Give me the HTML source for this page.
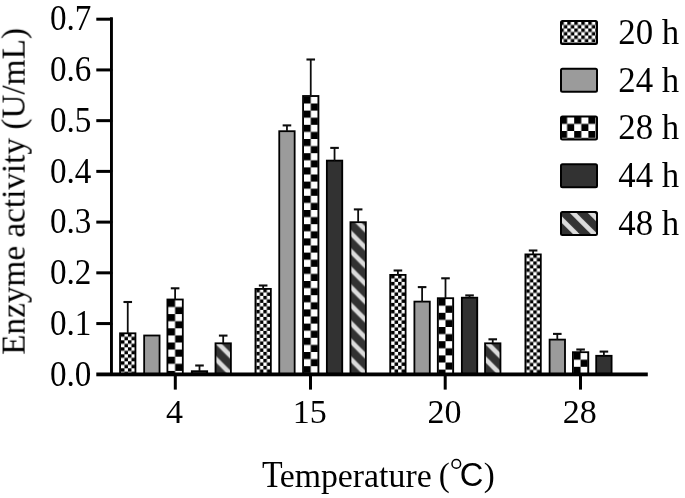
<!DOCTYPE html>
<html><head><meta charset="utf-8"><style>html,body{margin:0;padding:0;background:#fff;overflow:hidden}svg{display:block}</style></head>
<body><svg width="685" height="498" viewBox="0 0 685 498">
<defs><pattern id="p1" patternUnits="userSpaceOnUse" x="120.95" y="333.30" width="7.0" height="7.0"><rect width="7.0" height="7.0" fill="#fff"/><rect width="3.5" height="3.5" fill="#000"/><rect x="3.5" y="3.5" width="3.5" height="3.5" fill="#000"/></pattern><pattern id="p2" patternUnits="userSpaceOnUse" x="168.00" y="299.90" width="14.2" height="14.2"><rect width="14.2" height="14.2" fill="#fff"/><rect width="7.1" height="7.1" fill="#000"/><rect x="7.1" y="7.1" width="7.1" height="7.1" fill="#000"/></pattern><pattern id="p3" patternUnits="userSpaceOnUse" x="214.60" y="374.40" width="18.0" height="18.0"><rect width="18.0" height="18.0" fill="#333"/><polygon points="-40.80,0 -34.20,0 -16.20,18.0 -22.80,18.0" fill="#dcdcdc"/><polygon points="-22.80,0 -16.20,0 1.80,18.0 -4.80,18.0" fill="#dcdcdc"/><polygon points="-4.80,0 1.80,0 19.80,18.0 13.20,18.0" fill="#dcdcdc"/><polygon points="13.20,0 19.80,0 37.80,18.0 31.20,18.0" fill="#dcdcdc"/><polygon points="31.20,0 37.80,0 55.80,18.0 49.20,18.0" fill="#dcdcdc"/></pattern><pattern id="p4" patternUnits="userSpaceOnUse" x="256.35" y="288.90" width="7.0" height="7.0"><rect width="7.0" height="7.0" fill="#fff"/><rect width="3.5" height="3.5" fill="#000"/><rect x="3.5" y="3.5" width="3.5" height="3.5" fill="#000"/></pattern><pattern id="p5" patternUnits="userSpaceOnUse" x="303.65" y="96.40" width="14.2" height="14.2"><rect width="14.2" height="14.2" fill="#fff"/><rect width="7.1" height="7.1" fill="#000"/><rect x="7.1" y="7.1" width="7.1" height="7.1" fill="#000"/></pattern><pattern id="p6" patternUnits="userSpaceOnUse" x="349.55" y="374.40" width="18.0" height="18.0"><rect width="18.0" height="18.0" fill="#333"/><polygon points="-40.80,0 -34.20,0 -16.20,18.0 -22.80,18.0" fill="#dcdcdc"/><polygon points="-22.80,0 -16.20,0 1.80,18.0 -4.80,18.0" fill="#dcdcdc"/><polygon points="-4.80,0 1.80,0 19.80,18.0 13.20,18.0" fill="#dcdcdc"/><polygon points="13.20,0 19.80,0 37.80,18.0 31.20,18.0" fill="#dcdcdc"/><polygon points="31.20,0 37.80,0 55.80,18.0 49.20,18.0" fill="#dcdcdc"/></pattern><pattern id="p7" patternUnits="userSpaceOnUse" x="391.10" y="274.90" width="7.0" height="7.0"><rect width="7.0" height="7.0" fill="#fff"/><rect width="3.5" height="3.5" fill="#000"/><rect x="3.5" y="3.5" width="3.5" height="3.5" fill="#000"/></pattern><pattern id="p8" patternUnits="userSpaceOnUse" x="438.40" y="298.60" width="14.2" height="14.2"><rect width="14.2" height="14.2" fill="#fff"/><rect width="7.1" height="7.1" fill="#000"/><rect x="7.1" y="7.1" width="7.1" height="7.1" fill="#000"/></pattern><pattern id="p9" patternUnits="userSpaceOnUse" x="484.15" y="374.40" width="18.0" height="18.0"><rect width="18.0" height="18.0" fill="#333"/><polygon points="-40.80,0 -34.20,0 -16.20,18.0 -22.80,18.0" fill="#dcdcdc"/><polygon points="-22.80,0 -16.20,0 1.80,18.0 -4.80,18.0" fill="#dcdcdc"/><polygon points="-4.80,0 1.80,0 19.80,18.0 13.20,18.0" fill="#dcdcdc"/><polygon points="13.20,0 19.80,0 37.80,18.0 31.20,18.0" fill="#dcdcdc"/><polygon points="31.20,0 37.80,0 55.80,18.0 49.20,18.0" fill="#dcdcdc"/></pattern><pattern id="p10" patternUnits="userSpaceOnUse" x="526.30" y="254.40" width="7.0" height="7.0"><rect width="7.0" height="7.0" fill="#fff"/><rect width="3.5" height="3.5" fill="#000"/><rect x="3.5" y="3.5" width="3.5" height="3.5" fill="#000"/></pattern><pattern id="p11" patternUnits="userSpaceOnUse" x="573.50" y="352.60" width="14.2" height="14.2"><rect width="14.2" height="14.2" fill="#fff"/><rect width="7.1" height="7.1" fill="#000"/><rect x="7.1" y="7.1" width="7.1" height="7.1" fill="#000"/></pattern><pattern id="p12" patternUnits="userSpaceOnUse" x="560.30" y="21.50" width="7.0" height="7.0"><rect width="7.0" height="7.0" fill="#fff"/><rect width="3.5" height="3.5" fill="#000"/><rect x="3.5" y="3.5" width="3.5" height="3.5" fill="#000"/></pattern><pattern id="p13" patternUnits="userSpaceOnUse" x="560.00" y="116.80" width="14.2" height="14.2"><rect width="14.2" height="14.2" fill="#fff"/><rect width="7.1" height="7.1" fill="#000"/><rect x="7.1" y="7.1" width="7.1" height="7.1" fill="#000"/></pattern><pattern id="p14" patternUnits="userSpaceOnUse" x="560.00" y="235.90" width="18.0" height="18.0"><rect width="18.0" height="18.0" fill="#333"/><polygon points="-39.20,0 -32.60,0 -14.60,18.0 -21.20,18.0" fill="#dcdcdc"/><polygon points="-21.20,0 -14.60,0 3.40,18.0 -3.20,18.0" fill="#dcdcdc"/><polygon points="-3.20,0 3.40,0 21.40,18.0 14.80,18.0" fill="#dcdcdc"/><polygon points="14.80,0 21.40,0 39.40,18.0 32.80,18.0" fill="#dcdcdc"/><polygon points="32.80,0 39.40,0 57.40,18.0 50.80,18.0" fill="#dcdcdc"/></pattern><filter id="soft" x="0" y="0" width="1" height="1"><feGaussianBlur stdDeviation="0.45"/></filter></defs>
<rect width="685" height="498" fill="#fff"/>
<g filter="url(#soft)"><rect width="685" height="498" fill="#fff"/>
<rect x="120.05" y="333.30" width="15.40" height="41.10" fill="url(#p1)" stroke="#000" stroke-width="1.8"/><line x1="127.75" y1="302.00" x2="127.75" y2="333.40" stroke="#111" stroke-width="1.8"/><line x1="123.45" y1="302.00" x2="132.05" y2="302.00" stroke="#111" stroke-width="2.1"/><rect x="144.15" y="335.50" width="15.40" height="38.90" fill="#9b9b9b" stroke="#000" stroke-width="1.8"/><rect x="167.40" y="299.50" width="15.40" height="74.90" fill="url(#p2)" stroke="#000" stroke-width="1.8"/><line x1="175.10" y1="288.30" x2="175.10" y2="299.60" stroke="#111" stroke-width="1.8"/><line x1="170.80" y1="288.30" x2="179.40" y2="288.30" stroke="#111" stroke-width="2.1"/><rect x="191.80" y="371.20" width="15.40" height="3.20" fill="#333333" stroke="#000" stroke-width="1.8"/><line x1="199.50" y1="365.50" x2="199.50" y2="371.30" stroke="#111" stroke-width="1.8"/><line x1="195.20" y1="365.50" x2="203.80" y2="365.50" stroke="#111" stroke-width="2.1"/><rect x="215.50" y="343.30" width="15.40" height="31.10" fill="url(#p3)" stroke="#000" stroke-width="1.8"/><line x1="223.20" y1="335.60" x2="223.20" y2="343.40" stroke="#111" stroke-width="1.8"/><line x1="218.90" y1="335.60" x2="227.50" y2="335.60" stroke="#111" stroke-width="2.1"/><rect x="255.45" y="288.90" width="15.40" height="85.50" fill="url(#p4)" stroke="#000" stroke-width="1.8"/><line x1="263.15" y1="285.50" x2="263.15" y2="289.00" stroke="#111" stroke-width="1.8"/><line x1="258.85" y1="285.50" x2="267.45" y2="285.50" stroke="#111" stroke-width="2.1"/><rect x="279.25" y="131.20" width="15.40" height="243.20" fill="#9b9b9b" stroke="#000" stroke-width="1.8"/><line x1="286.95" y1="125.40" x2="286.95" y2="131.30" stroke="#111" stroke-width="1.8"/><line x1="282.65" y1="125.40" x2="291.25" y2="125.40" stroke="#111" stroke-width="2.1"/><rect x="303.05" y="96.00" width="15.40" height="278.40" fill="url(#p5)" stroke="#000" stroke-width="1.8"/><line x1="310.75" y1="59.50" x2="310.75" y2="96.10" stroke="#111" stroke-width="1.8"/><line x1="306.45" y1="59.50" x2="315.05" y2="59.50" stroke="#111" stroke-width="2.1"/><rect x="326.85" y="160.60" width="15.40" height="213.80" fill="#333333" stroke="#000" stroke-width="1.8"/><line x1="334.55" y1="147.90" x2="334.55" y2="160.70" stroke="#111" stroke-width="1.8"/><line x1="330.25" y1="147.90" x2="338.85" y2="147.90" stroke="#111" stroke-width="2.1"/><rect x="350.45" y="222.20" width="15.40" height="152.20" fill="url(#p6)" stroke="#000" stroke-width="1.8"/><line x1="358.15" y1="209.40" x2="358.15" y2="222.30" stroke="#111" stroke-width="1.8"/><line x1="353.85" y1="209.40" x2="362.45" y2="209.40" stroke="#111" stroke-width="2.1"/><rect x="390.20" y="274.90" width="15.40" height="99.50" fill="url(#p7)" stroke="#000" stroke-width="1.8"/><line x1="397.90" y1="270.50" x2="397.90" y2="275.00" stroke="#111" stroke-width="1.8"/><line x1="393.60" y1="270.50" x2="402.20" y2="270.50" stroke="#111" stroke-width="2.1"/><rect x="414.40" y="301.60" width="15.40" height="72.80" fill="#9b9b9b" stroke="#000" stroke-width="1.8"/><line x1="422.10" y1="287.10" x2="422.10" y2="301.70" stroke="#111" stroke-width="1.8"/><line x1="417.80" y1="287.10" x2="426.40" y2="287.10" stroke="#111" stroke-width="2.1"/><rect x="437.80" y="298.20" width="15.40" height="76.20" fill="url(#p8)" stroke="#000" stroke-width="1.8"/><line x1="445.50" y1="278.30" x2="445.50" y2="298.30" stroke="#111" stroke-width="1.8"/><line x1="441.20" y1="278.30" x2="449.80" y2="278.30" stroke="#111" stroke-width="2.1"/><rect x="461.85" y="297.70" width="15.40" height="76.70" fill="#333333" stroke="#000" stroke-width="1.8"/><line x1="469.55" y1="295.40" x2="469.55" y2="297.80" stroke="#111" stroke-width="1.8"/><line x1="465.25" y1="295.40" x2="473.85" y2="295.40" stroke="#111" stroke-width="2.1"/><rect x="485.05" y="343.30" width="15.40" height="31.10" fill="url(#p9)" stroke="#000" stroke-width="1.8"/><line x1="492.75" y1="339.30" x2="492.75" y2="343.40" stroke="#111" stroke-width="1.8"/><line x1="488.45" y1="339.30" x2="497.05" y2="339.30" stroke="#111" stroke-width="2.1"/><rect x="525.40" y="254.40" width="15.40" height="120.00" fill="url(#p10)" stroke="#000" stroke-width="1.8"/><line x1="533.10" y1="250.50" x2="533.10" y2="254.50" stroke="#111" stroke-width="1.8"/><line x1="528.80" y1="250.50" x2="537.40" y2="250.50" stroke="#111" stroke-width="2.1"/><rect x="549.60" y="339.60" width="15.40" height="34.80" fill="#9b9b9b" stroke="#000" stroke-width="1.8"/><line x1="557.30" y1="333.90" x2="557.30" y2="339.70" stroke="#111" stroke-width="1.8"/><line x1="553.00" y1="333.90" x2="561.60" y2="333.90" stroke="#111" stroke-width="2.1"/><rect x="572.90" y="352.20" width="15.40" height="22.20" fill="url(#p11)" stroke="#000" stroke-width="1.8"/><line x1="580.60" y1="349.50" x2="580.60" y2="352.30" stroke="#111" stroke-width="1.8"/><line x1="576.30" y1="349.50" x2="584.90" y2="349.50" stroke="#111" stroke-width="2.1"/><rect x="596.20" y="355.80" width="15.40" height="18.60" fill="#333333" stroke="#000" stroke-width="1.8"/><line x1="603.90" y1="351.60" x2="603.90" y2="355.90" stroke="#111" stroke-width="1.8"/><line x1="599.60" y1="351.60" x2="608.20" y2="351.60" stroke="#111" stroke-width="2.1"/>
<rect x="110" y="17.3" width="2.9" height="358" fill="#000"/><rect x="96.3" y="372.5" width="551.5" height="3.8" fill="#000"/><rect x="96.3" y="322.07" width="16" height="3" fill="#000"/><rect x="96.3" y="271.34" width="16" height="3" fill="#000"/><rect x="96.3" y="220.61" width="16" height="3" fill="#000"/><rect x="96.3" y="169.89" width="16" height="3" fill="#000"/><rect x="96.3" y="119.16" width="16" height="3" fill="#000"/><rect x="96.3" y="68.43" width="16" height="3" fill="#000"/><rect x="96.3" y="17.70" width="16" height="3" fill="#000"/><rect x="173.80" y="375" width="3" height="14.6" fill="#000"/><rect x="309.00" y="375" width="3" height="14.6" fill="#000"/><rect x="443.70" y="375" width="3" height="14.6" fill="#000"/><rect x="579.00" y="375" width="3" height="14.6" fill="#000"/>
<text transform="translate(91.3,385.50) scale(0.975,1.03)" font-family="Liberation Serif, serif" font-size="34" text-anchor="end">0.0</text><text transform="translate(91.3,334.77) scale(0.975,1.03)" font-family="Liberation Serif, serif" font-size="34" text-anchor="end">0.1</text><text transform="translate(91.3,284.04) scale(0.975,1.03)" font-family="Liberation Serif, serif" font-size="34" text-anchor="end">0.2</text><text transform="translate(91.3,233.31) scale(0.975,1.03)" font-family="Liberation Serif, serif" font-size="34" text-anchor="end">0.3</text><text transform="translate(91.3,182.59) scale(0.975,1.03)" font-family="Liberation Serif, serif" font-size="34" text-anchor="end">0.4</text><text transform="translate(91.3,131.86) scale(0.975,1.03)" font-family="Liberation Serif, serif" font-size="34" text-anchor="end">0.5</text><text transform="translate(91.3,81.13) scale(0.975,1.03)" font-family="Liberation Serif, serif" font-size="34" text-anchor="end">0.6</text><text transform="translate(91.3,30.40) scale(0.975,1.03)" font-family="Liberation Serif, serif" font-size="34" text-anchor="end">0.7</text><text transform="translate(174.50,422.8) scale(1,1.02)" font-family="Liberation Serif, serif" font-size="34" text-anchor="middle">4</text><text transform="translate(309.70,422.8) scale(1,1.02)" font-family="Liberation Serif, serif" font-size="34" text-anchor="middle">15</text><text transform="translate(444.40,422.8) scale(1,1.02)" font-family="Liberation Serif, serif" font-size="34" text-anchor="middle">20</text><text transform="translate(579.70,422.8) scale(1,1.02)" font-family="Liberation Serif, serif" font-size="34" text-anchor="middle">28</text><text transform="translate(262,486.6) scale(1,1.1)" font-family="Liberation Serif, serif" font-size="33.8">T</text><text transform="translate(279.65,486.6)" font-family="Liberation Serif, serif" font-size="33.8">emperature</text><text transform="translate(438.8,485.9)" font-family="Liberation Serif, serif" font-size="33">(</text><circle cx="456.3" cy="463.9" r="4.3" fill="none" stroke="#000" stroke-width="1.5"/><text transform="translate(459.7,485.7)" font-family="Liberation Sans, sans-serif" font-size="32.7">C</text><text transform="translate(483.7,485.9)" font-family="Liberation Serif, serif" font-size="33">)</text><text transform="translate(24.6,354.8) rotate(-90)" font-family="Liberation Serif, serif" font-size="33.25">Enzyme activity (U/mL)</text>
<rect x="561" y="21.1" width="36" height="23" rx="1.5" fill="url(#p12)" stroke="#000" stroke-width="2"/><text x="618.3" y="44.00" font-family="Liberation Serif, serif" font-size="34.8">20 h</text><rect x="561" y="68.80000000000001" width="36" height="23" rx="1.5" fill="#9b9b9b" stroke="#000" stroke-width="2"/><text x="618.3" y="91.70" font-family="Liberation Serif, serif" font-size="34.8">24 h</text><rect x="561" y="116.5" width="36" height="23" rx="1.5" fill="url(#p13)" stroke="#000" stroke-width="2"/><text x="618.3" y="139.40" font-family="Liberation Serif, serif" font-size="34.8">28 h</text><rect x="561" y="164.20000000000002" width="36" height="23" rx="1.5" fill="#333333" stroke="#000" stroke-width="2"/><text x="618.3" y="187.10" font-family="Liberation Serif, serif" font-size="34.8">44 h</text><rect x="561" y="211.9" width="36" height="23" rx="1.5" fill="url(#p14)" stroke="#000" stroke-width="2"/><text x="618.3" y="234.80" font-family="Liberation Serif, serif" font-size="34.8">48 h</text>
</g>
</svg></body></html>
